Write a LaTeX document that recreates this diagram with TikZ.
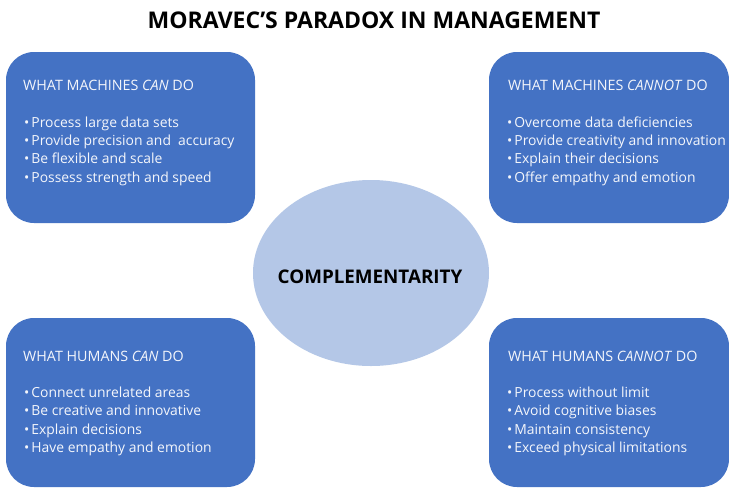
\documentclass[tikz,border=0pt]{standalone}
\usepackage{fontspec}
\setmainfont{Open Sans}
\usetikzlibrary{shapes.geometric}
\definecolor{boxblue}{HTML}{4472C4}
\definecolor{ovalblue}{HTML}{B4C7E7}
\definecolor{boxtext}{HTML}{F4F6FB}
\begin{document}
\begin{tikzpicture}[x=1pt,y=-1pt,
  panel/.style={draw=none,fill=boxblue,rounded corners=28pt,inner sep=0pt},
  head/.style={anchor=base west,inner sep=0pt,text=boxtext,font=\fontsize{14.3}{17}\selectfont},
  item/.style={anchor=base west,inner sep=0pt,text=boxtext,font=\fontsize{13.9}{17}\selectfont},
  title/.style={anchor=base,inner sep=0pt,font=\bfseries\fontsize{23}{26}\selectfont},
  hub/.style={ellipse,fill=ovalblue,draw=none,inner sep=0pt,minimum width=236pt,minimum height=186pt}]
\useasboundingbox (0,0) rectangle (729,488);
\fill[white] (0,0) rectangle (729,488);

% title
\node[title] (title) at (374,28) {MORAVEC’S PARADOX IN MANAGEMENT};

% four panels
\node[panel,minimum width=249pt,minimum height=171pt] (mcan) at (130.5,137.5) {};
\node[panel,minimum width=240pt,minimum height=171pt] (mcannot) at (609,137.5) {};
\node[panel,minimum width=249pt,minimum height=169pt] (hcan) at (130.5,402.5) {};
\node[panel,minimum width=240pt,minimum height=169pt] (hcannot) at (609,402.5) {};

% central oval
\node[hub] (comp) at (371,273) {};
\node[inner sep=0pt,anchor=base,font=\bfseries\fontsize{18.8}{21}\selectfont] (complabel) at (370,283) {COMPLEMENTARITY};

% panel headings
\node[head] (mcan-h) at (23,90) {WHAT MACHINES \textit{CAN} DO};
\node[head] (mcannot-h) at (508,90) {WHAT MACHINES \textit{CANNOT} DO};
\node[head] (hcan-h) at (23,361) {WHAT HUMANS \textit{CAN} DO};
\node[head] (hcannot-h) at (508,361) {WHAT HUMANS \textit{CANNOT} DO};

% bullet lists
\foreach \t [count=\i] in {Process large data sets,Provide precision and\ \ accuracy,Be flexible and scale,Possess strength and speed}
  \node[item] (mcan-\i) at (24,127+18.4*\i-18.4) {•\hspace{2pt}\t};
\foreach \t [count=\i] in {Overcome data deficiencies,Provide creativity and innovation,Explain their decisions,Offer empathy and emotion}
  \node[item] (mcannot-\i) at (507,127+18.4*\i-18.4) {•\hspace{2pt}\t};
\foreach \t [count=\i] in {Connect unrelated areas,Be creative and innovative,Explain decisions,Have empathy and emotion}
  \node[item] (hcan-\i) at (24,397+18.6*\i-18.6) {•\hspace{2pt}\t};
\foreach \t [count=\i] in {Process without limit,Avoid cognitive biases,Maintain consistency,Exceed physical limitations}
  \node[item] (hcannot-\i) at (507,397+18.6*\i-18.6) {•\hspace{2pt}\t};
\end{tikzpicture}
\end{document}
